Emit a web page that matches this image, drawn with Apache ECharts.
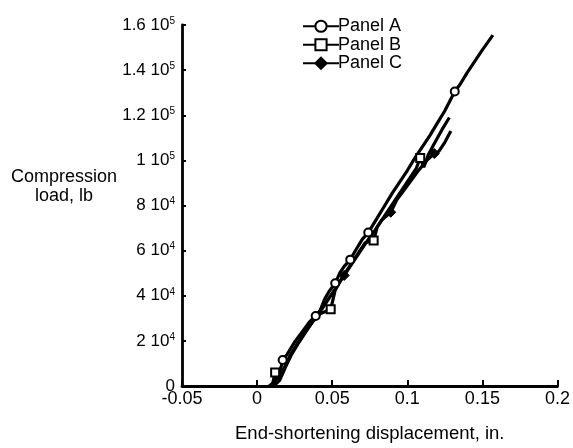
<!DOCTYPE html>
<html><head><meta charset="utf-8">
<script src="https://cdn.jsdelivr.net/npm/echarts@6/dist/echarts.min.js"></script>
<style>html,body{margin:0;padding:0;background:#fff}#c{width:573px;height:448px}</style>
</head><body><div id="c"></div>
<script>
var xTicks = [-0.05, 0, 0.05, 0.1, 0.15, 0.2];
var yTickLabels = ['0','2 10|4','4 10|4','6 10|4','8 10|4','1 10|5','1.2 10|5','1.4 10|5','1.6 10|5'];

var panelA = [[0.008,0],[0.012,2000],[0.016,8500],[0.017,11500],[0.020,14000],[0.025,19500],[0.030,24000],[0.035,28500],[0.039,31000],[0.042,33500],[0.045,38500],[0.048,42000],[0.052,45500],[0.055,50000],[0.058,53000],[0.062,56000],[0.065,59500],[0.070,65000],[0.074,68000],[0.080,74500],[0.085,80000],[0.090,85500],[0.095,90500],[0.100,95500],[0.105,101000],[0.110,106000],[0.115,111000],[0.120,116500],[0.125,122000],[0.1316,130500],[0.135,133500],[0.140,139000],[0.145,144000],[0.150,149000],[0.157,155500]];
var markA = [3, 8, 12, 15, 18, 29];

var panelB = [[0.010,0],[0.012,6000],[0.014,3000],[0.018,8000],[0.022,13500],[0.027,19000],[0.032,24000],[0.037,28500],[0.042,32000],[0.049,34000],[0.052,42500],[0.057,48500],[0.062,53500],[0.067,58500],[0.072,63500],[0.0776,64500],[0.080,70500],[0.087,77500],[0.092,82500],[0.097,87500],[0.102,92500],[0.106,96500],[0.1086,101000],[0.111,97000],[0.114,102500],[0.118,107500],[0.123,113500],[0.128,119000]];
var markB = [1, 9, 15, 22];

var panelC = [[0.011,0],[0.015,2500],[0.019,8500],[0.023,14000],[0.028,19500],[0.033,24500],[0.038,29500],[0.043,34000],[0.048,39000],[0.053,44000],[0.058,49000],[0.063,54000],[0.068,59000],[0.073,64000],[0.078,68500],[0.083,73500],[0.089,77000],[0.093,82500],[0.098,87000],[0.103,91500],[0.108,96000],[0.113,100000],[0.118,103000],[0.121,104000],[0.125,108000],[0.129,113000]];
var markC = [10, 16, 22];

function items(arr, marks){
  return arr.map(function(p,i){
    return marks.indexOf(i) >= 0 ? {value:p} : {value:p, symbol:'none'};
  });
}
function yFmt(v){
  var idx = Math.round(v/20000);
  var s = yTickLabels[idx];
  if (s === undefined) return '';
  var parts = s.split('|');
  if (parts.length === 1) return '{a|' + parts[0] + '}';
  return '{a|' + parts[0] + '}{s|' + parts[1] + '}';
}
var lineCommon = {type:'line', showSymbol:true, animation:false, lineStyle:{color:'#000', width:3.2}, z:3};
var chart = echarts.init(document.getElementById('c'));
chart.setOption({
  backgroundColor:'#fff',
  animation:false,
  grid:{left:182, right:13, top:25, bottom:51},
  legend:{
    orient:'vertical', left:297, top:12, itemWidth:36, itemHeight:14, itemGap:0,
    textStyle:{fontFamily:'Liberation Sans', fontSize:18, lineHeight:18.5, color:'#000', padding:[0,0,0,-6]},
    data:['Panel A','Panel B','Panel C']
  },
  xAxis:{
    type:'value', min:-0.05, max:0.2, interval:0.05,
    axisLine:{show:true, onZero:false, lineStyle:{color:'#000', width:2.8}},
    axisTick:{show:true, inside:true, length:6, lineStyle:{color:'#000', width:2}},
    splitLine:{show:false},
    axisLabel:{margin:4, fontFamily:'Liberation Sans', fontSize:18, color:'#000',
      formatter:function(v){ return String(+v.toFixed(2)); }},
    name:'End-shortening displacement, in.', nameLocation:'middle', nameGap:38,
    nameTextStyle:{fontFamily:'Liberation Sans', fontSize:18.5, color:'#000'}
  },
  yAxis:{
    type:'value', min:0, max:160000, interval:20000,
    axisLine:{show:true, onZero:false, lineStyle:{color:'#000', width:2.8}},
    axisTick:{show:true, inside:true, length:4, lineStyle:{color:'#000', width:2}},
    splitLine:{show:false},
    axisLabel:{margin:7, color:'#000', formatter:yFmt,
      rich:{a:{fontFamily:'Liberation Sans', fontSize:17, color:'#000'},
            s:{fontFamily:'Liberation Sans', fontSize:10, color:'#000', padding:[0,0,8,0]}}}
  },
  graphic:[{
    type:'text', x:64, y:168,
    style:{text:'Compression\nload, lb', fontFamily:'Liberation Sans', fontSize:18, fill:'#000', align:'center', lineHeight:19}
  }],
  series:[
    Object.assign({}, lineCommon, {name:'Panel A', symbol:'emptyCircle', symbolSize:8,
      itemStyle:{color:'#000', borderColor:'#000', borderWidth:3}, data:items(panelA, markA)}),
    Object.assign({}, lineCommon, {name:'Panel B', symbol:'emptyRect', symbolSize:8,
      itemStyle:{color:'#000', borderColor:'#000', borderWidth:2.2}, data:items(panelB, markB)}),
    Object.assign({}, lineCommon, {name:'Panel C', symbol:'diamond', symbolSize:10,
      itemStyle:{color:'#000', borderColor:'#000', borderWidth:1}, data:items(panelC, markC)})
  ]
});
</script></body></html>
